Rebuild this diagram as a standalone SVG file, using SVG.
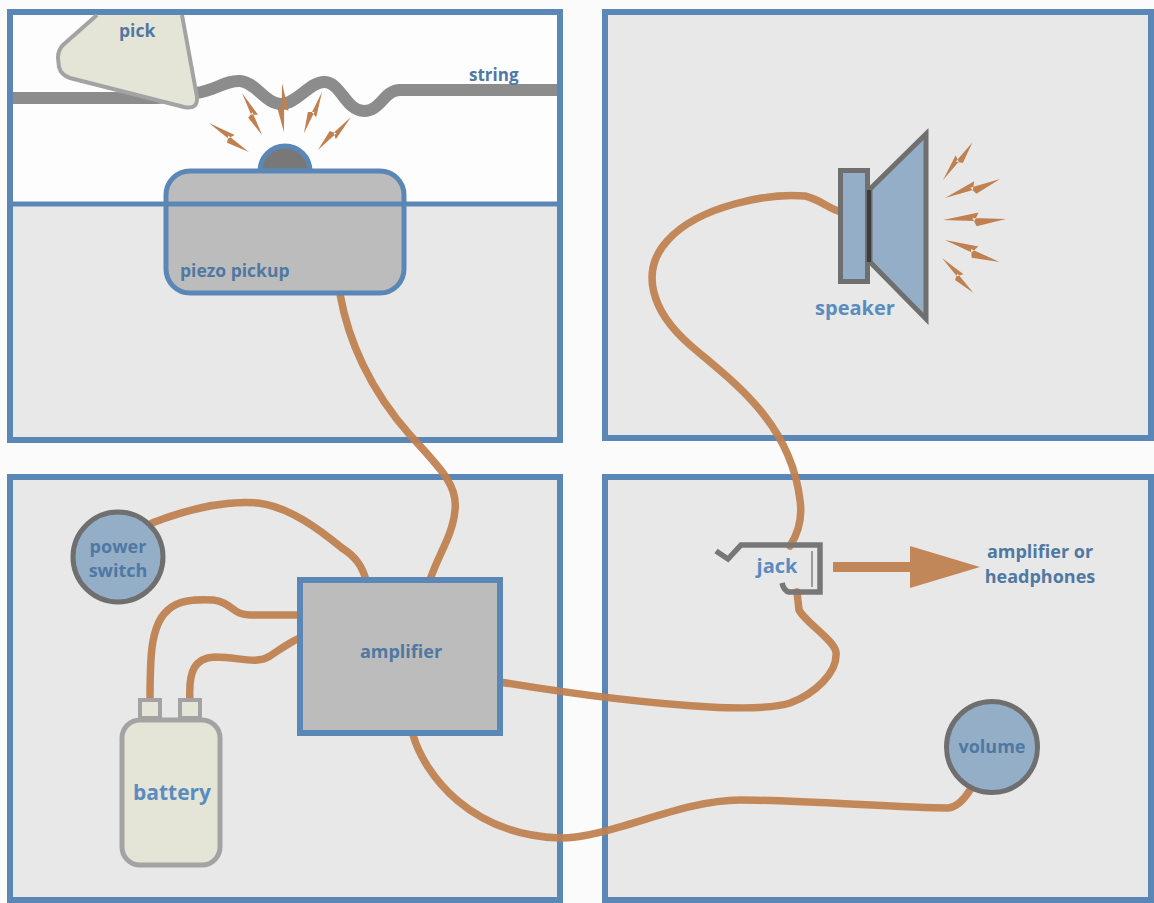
<svg xmlns="http://www.w3.org/2000/svg" xmlns:xlink="http://www.w3.org/1999/xlink" width="1154" height="903" viewBox="0 0 1154 903">
  <style>
    .panel { stroke: #5a87b5; stroke-width: 6; }
    .wire { fill: none; stroke: #c0804f; stroke-width: 7.5; stroke-linecap: round; stroke-linejoin: round; }
    .spark { fill: #c0804f; }
    .lbl { font-family: "Open Sans", "Liberation Sans", sans-serif; font-weight: 700; fill: #4f78a2; }
    .lbl-lt { fill: #5a8cc0; }
    .knob { fill: #94aec8; stroke: #6f6f6f; stroke-width: 5; }
    .box { fill: #bcbcbc; stroke: #5a87b5; }
    .cell { fill: #e5e5d7; stroke: #a3a3a3; }
  </style>
  <defs>
    <!-- lightning-shaped vibration mark, 60 units long along +x -->
    <path id="bolt" d="M0,0 L34,-6.5 L30,1.5 Z M28,-1.5 L32,6.5 L60,0 Z"/>
  </defs>

  <rect x="0" y="0" width="1154" height="903" fill="#fbfbfb"/>

  <!-- four panels -->
  <g id="panels">
    <rect x="10" y="12" width="550" height="428" fill="#fdfdfd"/>
    <rect x="10" y="204" width="550" height="236" fill="#e8e8e8"/>
    <rect class="panel" x="10" y="12" width="550" height="428" fill="none"/>
    <rect class="panel" x="605" y="12" width="546" height="426" fill="#e8e8e8"/>
    <rect class="panel" x="10" y="477" width="550" height="423" fill="#e8e8e8"/>
    <rect class="panel" x="605" y="477" width="546" height="423" fill="#e8e8e8"/>
  </g>

  <!-- wiring -->
  <g id="connectors" opacity="0.93">
    <path id="wire-pickup-amp" class="wire" d="M340,294 C348,340 370,390 410,435 C440,468 458,485 455,510 C453,535 438,555 430,580"/>
    <path id="wire-switch-amp" class="wire" d="M152,523 C185,510 225,500 258,503 C290,507 320,530 342,548 C356,557 362,566 366,580"/>
    <path id="wire-battery-pos" class="wire" d="M150,702 C150,660 150,625 168,610 C178,600 195,599 213,600 C232,602 232,615 250,615 L300,615"/>
    <path id="wire-battery-neg" class="wire" d="M190,702 C188,670 195,658 215,657 C240,657 255,665 270,656 C282,648 290,642 300,638"/>
    <path id="wire-amp-jack" class="wire" d="M500,682 C560,692 640,703 710,707 C750,709 775,708 790,703 C815,694 838,672 836,652 C834,640 805,622 799,610 L797,592"/>
    <path id="wire-speaker-jack" class="wire" d="M842,212 C830,210 822,200 805,196 C770,193 700,205 668,240 C640,270 650,310 690,345 C730,380 790,420 800,500 C803,520 797,535 790,546"/>
    <path id="wire-amp-volume" class="wire" d="M413,735 C425,775 470,835 560,838 C610,838 680,800 740,800 C800,800 900,808 948,808 C958,807 965,798 970,790"/>
    <g id="output-arrow">
      <path d="M833,567 L915,567" stroke="#c0804f" stroke-width="10" fill="none"/>
      <polygon points="910,546 980,567 910,588" fill="#c0804f"/>
    </g>
  </g>

  <!-- string with plucking pick -->
  <g id="string">
    <path d="M13,98 L150,98 C170,98 180,94 195,93 C215,91 225,80 240,81 C256,82 265,104 281,104 C297,104 310,81 325,82 C341,83 346,111 364,111 C381,111 384,90 400,90 L557,90" fill="none" stroke="#8c8c8c" stroke-width="12"/>
    <text class="lbl" x="469" y="81" font-size="17">string</text>
  </g>

  <g id="string-vibration" class="spark">
    <use xlink:href="#bolt" transform="translate(209,123) rotate(36) scale(0.82)"/>
    <use xlink:href="#bolt" transform="translate(242,93) rotate(64.5) scale(0.78)"/>
    <use xlink:href="#bolt" transform="translate(282,83) rotate(87.7) scale(0.82)"/>
    <use xlink:href="#bolt" transform="translate(322,92) rotate(113.7) scale(0.75)"/>
    <use xlink:href="#bolt" transform="translate(351,117) rotate(135) scale(0.78)"/>
  </g>

  <g id="pick">
    <path class="cell" stroke-width="4" stroke-linejoin="round" d="M182,15 L197,97 Q198,110 184,107 L70,78 Q61,75 59,67 L58,58 Q58,50 63,45 L97,15"/>
    <text class="lbl" x="119" y="37" font-size="17.5">pick</text>
  </g>

  <g id="piezo-pickup">
    <path d="M260,171 A25,25 0 0 1 310,171 Z" fill="#787878" stroke="#5a87b5" stroke-width="5"/>
    <rect class="box" x="166" y="171" width="238" height="122" rx="24" stroke-width="5"/>
    <text class="lbl" x="180" y="277" font-size="17.5">piezo pickup</text>
  </g>

  <!-- panel seam runs across the pickup body -->
  <line id="panel-divider" x1="13" y1="204" x2="557" y2="204" stroke="#5a87b5" stroke-width="5"/>

  <g id="speaker">
    <rect x="840.5" y="170.5" width="27" height="111" fill="#94aec8" stroke="#6f6f6f" stroke-width="5"/>
    <polygon points="870,189 926,134 926,319 870,262" fill="#94aec8" stroke="#6f6f6f" stroke-width="5" stroke-linejoin="miter"/>
    <line x1="869" y1="190" x2="869" y2="262" stroke="#3c3c3c" stroke-width="4"/>
    <text class="lbl lbl-lt" x="855" y="315" font-size="20" text-anchor="middle">speaker</text>
  </g>

  <g id="speaker-sound" class="spark">
    <use xlink:href="#bolt" transform="translate(943,180) rotate(-52) scale(0.8)"/>
    <use xlink:href="#bolt" transform="translate(945,198) rotate(-19) scale(0.97)"/>
    <use xlink:href="#bolt" transform="translate(943,220) rotate(-1) scale(1.05)"/>
    <use xlink:href="#bolt" transform="translate(945,240) rotate(22) scale(0.98)"/>
    <use xlink:href="#bolt" transform="translate(942,258) rotate(48) scale(0.78)"/>
  </g>

  <g id="power-switch">
    <circle class="knob" cx="118" cy="557" r="45"/>
    <text class="lbl" x="118" y="553" font-size="18" text-anchor="middle">power</text>
    <text class="lbl" x="118" y="577" font-size="18" text-anchor="middle">switch</text>
  </g>

  <g id="amplifier">
    <rect class="box" x="300" y="580" width="200" height="153" stroke-width="6"/>
    <text class="lbl" x="401" y="658" font-size="18" text-anchor="middle">amplifier</text>
  </g>

  <g id="battery">
    <rect class="cell" x="140" y="700" width="20" height="18" stroke-width="4"/>
    <rect class="cell" x="180" y="700" width="20" height="18" stroke-width="4"/>
    <rect class="cell" x="122" y="720" width="98" height="145" rx="18" stroke-width="5"/>
    <text class="lbl lbl-lt" x="172" y="800" font-size="21" text-anchor="middle">battery</text>
  </g>

  <g id="jack">
    <path d="M716,551 L728,559 L741,545 L820,545 L820,592 L789,592 Q784,591 782,583" fill="none" stroke="#777777" stroke-width="5.5" stroke-linejoin="miter"/>
    <line x1="812" y1="551" x2="812" y2="587" stroke="#9a9a9a" stroke-width="2"/>
    <text class="lbl lbl-lt" x="777" y="573" font-size="20" text-anchor="middle">jack</text>
  </g>

  <g id="output-label">
    <text class="lbl" x="1040" y="558" font-size="18" text-anchor="middle">amplifier or</text>
    <text class="lbl" x="1040" y="583" font-size="18" text-anchor="middle">headphones</text>
  </g>

  <g id="volume">
    <circle class="knob" cx="992" cy="747" r="45.5"/>
    <text class="lbl" x="992" y="753" font-size="18" text-anchor="middle">volume</text>
  </g>
</svg>
